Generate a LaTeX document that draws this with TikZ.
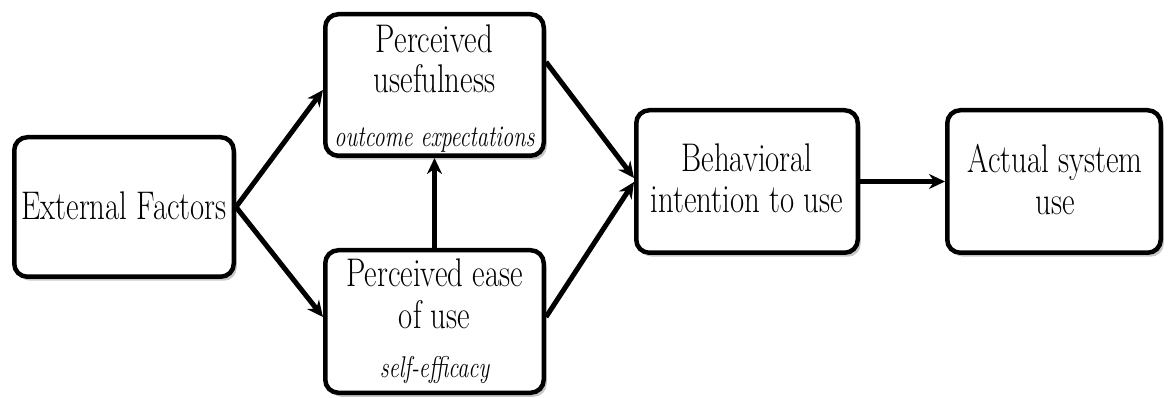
\documentclass[tikz,border=0pt]{standalone}
\usepackage{fontspec}
\usetikzlibrary{arrows.meta,shadows}
\newcommand{\sqz}[1]{\scalebox{0.77}[1]{#1}}
\newcommand{\sqzi}[1]{\scalebox{0.745}[1]{#1}}
\begin{document}
\begin{tikzpicture}[x=1pt,y=-1pt,
  box/.style={draw=black,line width=4.5pt,rounded corners=13pt,fill=white,inner sep=0pt,
    drop shadow={shadow xshift=3pt,shadow yshift=-4pt,opacity=0.22,fill=black}},
  txt/.style={anchor=base,inner sep=0pt,font=\fontsize{40}{41}\selectfont},
  sub/.style={anchor=base,inner sep=0pt,font=\fontsize{30}{32}\selectfont\itshape},
  arr/.style={line width=5pt,-{Stealth[length=16pt,width=15pt]}}]
\useasboundingbox (0,0) rectangle (1168,398);
% boxes
\node[box,minimum width=219.5pt,minimum height=139.5pt] (ef) at (124,207) {};
\node[box,minimum width=218.5pt,minimum height=141.5pt] (pu) at (434.5,85) {};
\node[box,minimum width=218.5pt,minimum height=142.5pt] (peou) at (434.5,321.5) {};
\node[box,minimum width=221.5pt,minimum height=142.5pt] (bi) at (747,181.5) {};
\node[box,minimum width=213.5pt,minimum height=142.5pt] (as) at (1054,181.5) {};
% texts
\node[txt] (eft) at (124,220) {\sqz{External Factors}};
\node[txt] (pu1) at (434.5,53) {\sqz{Perceived}};
\node[txt] (pu2) at (434.5,93) {\sqz{usefulness}};
\node[sub] (pu3) at (434.5,147) {\sqzi{outcome expectations}};
\node[txt] (pe1) at (434.5,287) {\sqz{Perceived ease}};
\node[txt] (pe2) at (434.5,328) {\sqz{of use}};
\node[sub] (pe3) at (434.5,377) {\sqzi{self-efficacy}};
\node[txt] (bi1) at (747,172) {\sqz{Behavioral}};
\node[txt] (bi2) at (747,213) {\sqz{intention to use}};
\node[txt] (as1) at (1055,173) {\sqz{Actual system}};
\node[txt] (as2) at (1055,215) {\sqz{use}};
% arrows
\draw[arr] (ef.east) -- ([yshift=-5pt]pu.west);
\draw[arr] (ef.east) -- ([yshift=4.5pt]peou.west);
\draw[arr] (peou.north) -- (pu.south);
\draw[arr] ([yshift=23pt]pu.east) -- ([yshift=3.5pt]bi.west);
\draw[arr] ([yshift=4.5pt]peou.east) -- ([yshift=-0.5pt]bi.west);
\draw[arr] (bi.east) -- (as.west);
\end{tikzpicture}
\end{document}
